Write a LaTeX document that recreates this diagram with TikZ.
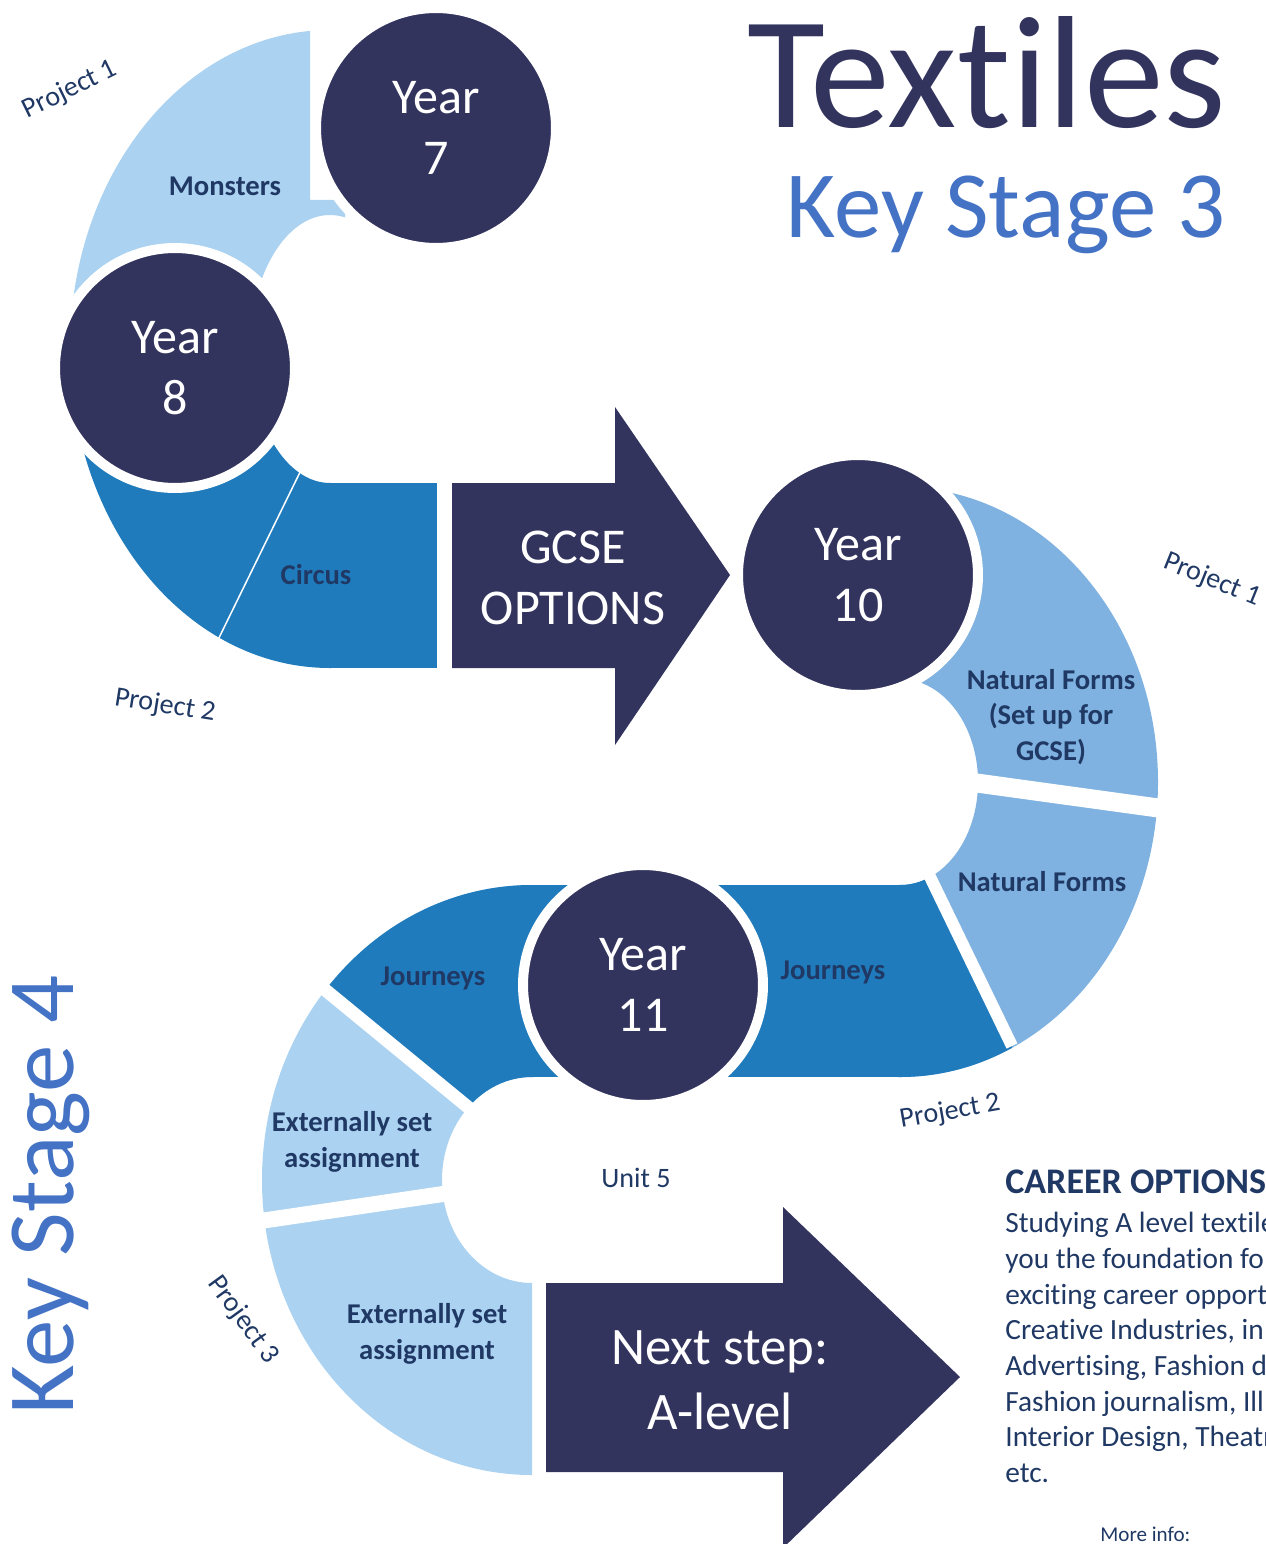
\documentclass[tikz,border=0pt]{standalone}
\usepackage{fontspec}
\setmainfont{Carlito}[Ligatures=NoCommon]
\definecolor{navy}{RGB}{51,52,94}
\definecolor{paleblue}{RGB}{171,210,240}
\definecolor{midblue}{RGB}{32,123,189}
\definecolor{formblue}{RGB}{127,178,224}
\definecolor{inkblue}{RGB}{31,56,100}
\definecolor{stageblue}{RGB}{68,114,196}
\tikzset{
  yearcirc/.style={circle,fill=navy,draw=white,line width=0.2cm,minimum size=4.8cm,inner sep=0pt,
    text=white,align=center,font=\fontsize{28.5}{35}\selectfont},
  arrowtext/.style={text=white,align=center,font=\fontsize{28.5}{35}\selectfont},
  bandlabel/.style={text=inkblue,align=center,font=\bfseries\fontsize{16.3}{20.3}\selectfont},
  projlabel/.style={text=inkblue,font=\fontsize{16}{19}\selectfont},
  divider/.style={draw=white,line width=#1}
}
\begin{document}
\begin{tikzpicture}[x=0.02cm,y=-0.02cm]
\useasboundingbox (0,0) rectangle (1265,1544);
% year 7 - year 8 bend
\begin{scope}
  \clip (0,0) -- (310,0) -- (310,200) -- (345,200) -- (345,349) -- (0,349) -- cycle;
  \fill[paleblue,even odd rule] (330,349) ellipse [x radius=260,y radius=319]
    (330,349) ellipse [x radius=80,y radius=134];
\end{scope}
\begin{scope}
  \clip (0,349) rectangle (331,700);
  \fill[midblue,even odd rule] (330,349) ellipse [x radius=260,y radius=319]
    (330,349) ellipse [x radius=80,y radius=134];
\end{scope}
\fill[midblue] (325,483) rectangle (437,668);
\draw[white,line width=0.03cm] (305,462) -- (214,648);
% gcse arrow
\fill[navy] (452,483) -- (615,483) -- (615,407) -- (730,575) -- (615,745) -- (615,668) -- (452,668) -- cycle;
% year 10 bend
\begin{scope}
  \clip (900,400) rectangle (1265,1100);
  \fill[formblue,even odd rule] (900,782) ellipse [x radius=258,y radius=295]
    (900,782) ellipse [x radius=78,y radius=103];
\end{scope}
\begin{scope}
  \clip (898,846) -- (915,846) -- (1012,1046) -- (1012,1100) -- (898,1100) -- cycle;
  \fill[midblue,even odd rule] (900,782) ellipse [x radius=258,y radius=295]
    (900,782) ellipse [x radius=78,y radius=103];
\end{scope}
\fill[midblue] (520,885) rectangle (904,1077);
% year 11 bend
\begin{scope}
  \clip (0,800) rectangle (532,1544);
  \fill[paleblue,even odd rule] (532,1180) ellipse [x radius=270,y radius=295]
    (532,1180) ellipse [x radius=90,y radius=103];
\end{scope}
\begin{scope}
  \clip (200,800) -- (534,800) -- (534,1160) -- (200,887) -- cycle;
  \fill[midblue,even odd rule] (532,1180) ellipse [x radius=270,y radius=295]
    (532,1180) ellipse [x radius=90,y radius=103];
\end{scope}
% gaps
\draw[divider=0.38cm] (955,780) -- (1180,811);
\draw[divider=0.24cm] (918,852) -- (1012,1046);
\draw[divider=0.26cm] (312,979) -- (480,1117);
\draw[divider=0.32cm] (240,1224) -- (470,1190);
% next step arrow
\fill[navy] (546,1283) -- (783,1283) -- (783,1207) -- (960,1377) -- (783,1548) -- (783,1472) -- (546,1472) -- cycle;
% years
\node[yearcirc] (y7) at (436,128) {Year\\7};
\node[yearcirc] (y8) at (175,368) {Year\\8};
\node[yearcirc] (y10) at (858,575) {Year\\10};
\node[yearcirc] (y11) at (643,985) {Year\\11};
\node[arrowtext] (gcse) at (573,578) {GCSE\\OPTIONS};
\node[arrowtext,font=\fontsize{30}{37}\selectfont] (nextstep) at (720,1380) {Next step:\\A-level};
% projects
\node[bandlabel] (monsters) at (225,186) {Monsters};
\node[bandlabel] (circus) at (316,575) {Circus};
\node[bandlabel] (forms1) at (1051,717) {Natural Forms\\(Set up for\\GCSE)};
\node[bandlabel] (forms2) at (1042,882) {Natural Forms};
\node[bandlabel] (journR) at (833,972) {Journeys};
\node[bandlabel] (journL) at (433,978) {Journeys};
\node[bandlabel] (esa1) at (352,1142) {Externally set\\assignment};
\node[bandlabel] (esa2) at (427,1334) {Externally set\\assignment};
\node[projlabel,rotate=26] (p1a) at (70,90) {Project 1};
\node[projlabel,rotate=-9] (p2a) at (165,706) {Project 2};
\node[projlabel,rotate=-22] (p1b) at (1212,580) {Project 1};
\node[projlabel,rotate=10] (p2b) at (950,1112) {Project 2};
\node[projlabel,rotate=-54] (p3) at (243,1320) {Project 3};
\node[projlabel] (unit5) at (636,1178) {Unit 5};
% titles
\node[text=navy,font=\fontsize{91}{95}\selectfont,anchor=base east,inner sep=0pt] (title) at (1227,128) {Textiles};
\node[text=stageblue,font=\fontsize{54}{60}\selectfont,anchor=base east,inner sep=0pt] (ks3) at (1226,237) {Key Stage 3};
\node[text=stageblue,font=\fontsize{54}{60}\selectfont,anchor=base west,inner sep=0pt,rotate=90] (ks4) at (73,1415) {Key Stage 4};
% careers
\begin{scope}
  \clip (0,0) rectangle (1265,1544);
  \node[text=inkblue,font=\bfseries\fontsize{20.5}{24}\selectfont,anchor=base west,inner sep=0pt] (career) at (1005,1193) {CAREER OPTIONS};
  \node[text=inkblue,font=\fontsize{16.7}{20.3}\selectfont,anchor=north west,align=left,inner sep=0pt] (careertext) at (1005,1212)
    {Studying A level textile\\you the foundation fo\\exciting career opport\\Creative Industries, in\\Advertising, Fashion d\\Fashion journalism, Ill\\Interior Design, Theatr\\etc.};
  \node[text=inkblue,font=\fontsize{12}{14}\selectfont,anchor=base west,inner sep=0pt] (moreinfo) at (1100,1541) {More info:};
\end{scope}
\end{tikzpicture}
\end{document}
